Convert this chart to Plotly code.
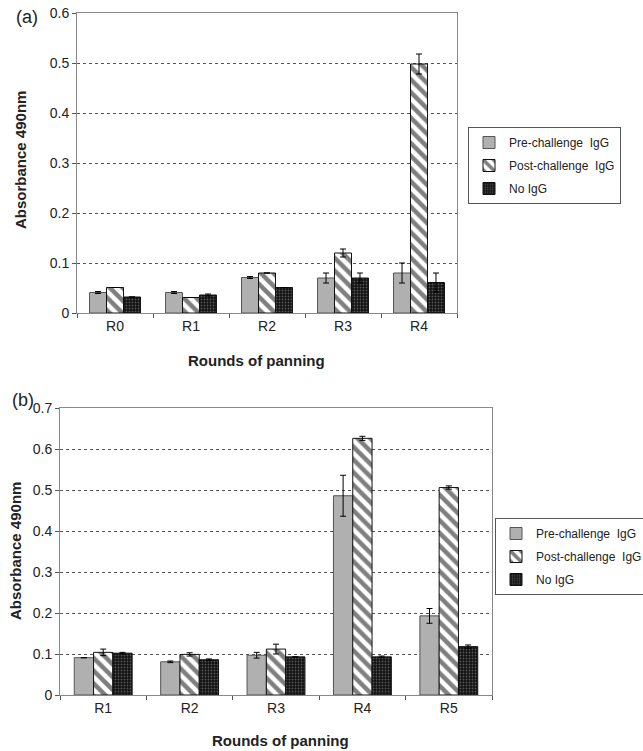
import plotly.graph_objects as go

W, H = 643, 751

# Panel (a)
cats_a = ["R0", "R1", "R2", "R3", "R4"]
pre_a = [0.041, 0.041, 0.071, 0.070, 0.080]
pre_a_err = [0.002, 0.002, 0.002, 0.010, 0.020]
post_a = [0.051, 0.031, 0.080, 0.120, 0.498]
post_a_err = [0.0, 0.0, 0.0, 0.008, 0.020]
no_a = [0.032, 0.036, 0.051, 0.070, 0.061]
no_a_err = [0.0, 0.002, 0.0, 0.010, 0.019]

# Panel (b)
cats_b = ["R1", "R2", "R3", "R4", "R5"]
pre_b = [0.091, 0.081, 0.097, 0.486, 0.193]
pre_b_err = [0.0, 0.002, 0.007, 0.050, 0.018]
post_b = [0.104, 0.099, 0.112, 0.626, 0.506]
post_b_err = [0.008, 0.004, 0.012, 0.005, 0.004]
no_b = [0.102, 0.086, 0.093, 0.093, 0.118]
no_b_err = [0.002, 0.002, 0.0, 0.002, 0.004]

series_names = ["Pre-challenge  IgG", "Post-challenge  IgG", "No IgG"]

FONT = "Liberation Sans, Arial, sans-serif"

def px_x(p):
    return p / W

def px_y(p):
    return 1 - p / H

styles = [
    dict(color="#b0b0b0", line=dict(color="#555555", width=1)),
    dict(color="white", line=dict(color="#111111", width=1),
         pattern=dict(shape="\\", fgcolor="#000000", bgcolor="white", size=9, solidity=0.5)),
    dict(color="#111111", line=dict(color="#111111", width=1),
         pattern=dict(shape=".", fgcolor="#9a9a9a", bgcolor="#111111", size=3, solidity=0.3)),
]

fig = go.Figure()

def add_panel(cats, vals, errs, xa, ya, legend, tag):
    for i in range(3):
        fig.add_trace(go.Bar(
            x=cats, y=vals[i], name=series_names[i],
            marker=styles[i],
            error_y=dict(type="data", array=errs[i], visible=True,
                         color="black", thickness=1, width=3),
            xaxis=xa, yaxis=ya, legend=legend, legendgroup=f"{tag}{i}",
        ))

add_panel(cats_a, [pre_a, post_a, no_a], [pre_a_err, post_a_err, no_a_err], "x", "y", "legend", "a")
add_panel(cats_b, [pre_b, post_b, no_b], [pre_b_err, post_b_err, no_b_err], "x2", "y2", "legend2", "b")

axis_common = dict(showline=True, linecolor="#888888", linewidth=1, mirror=True,
                   ticks="outside", tickcolor="#555555", ticklen=4, automargin=False,
                   tickfont=dict(family=FONT, size=14, color="#222222"))

legend_common = dict(xanchor="left", yanchor="top",
                     bordercolor="#555555", borderwidth=1, bgcolor="white",
                     font=dict(family=FONT, size=12, color="#222222"),
                     itemwidth=30, tracegroupgap=4)

fig.update_layout(
    width=W, height=H,
    margin=dict(l=0, r=0, t=0, b=0, autoexpand=False),
    paper_bgcolor="white", plot_bgcolor="white",
    barmode="group", bargap=0.33, bargroupgap=0.0,
    font=dict(family=FONT, color="#222222"),
    xaxis=dict(domain=[px_x(77), px_x(457)], anchor="y",
               tickson="boundaries", **axis_common),
    yaxis=dict(domain=[px_y(313), px_y(13)], anchor="x", range=[0, 0.6],
               dtick=0.1, tickformat=".1~f", showgrid=True,
               gridcolor="#555555", griddash="dot", gridwidth=1, **axis_common),
    xaxis2=dict(domain=[px_x(60), px_x(492)], anchor="y2",
                tickson="boundaries", **axis_common),
    yaxis2=dict(domain=[px_y(695), px_y(408)], anchor="x2", range=[0, 0.7],
                dtick=0.1, tickformat=".1~f", showgrid=True,
                gridcolor="#555555", griddash="dot", gridwidth=1, **axis_common),
    legend=dict(x=px_x(468), y=px_y(127), **legend_common),
    legend2=dict(x=px_x(495), y=px_y(518), **legend_common),
    showlegend=True,
)

annots = [
    dict(text="(a)", x=px_x(27), y=px_y(17), font=dict(size=18)),
    dict(text="(b)", x=px_x(23), y=px_y(400), font=dict(size=18)),
    dict(text="<b>Absorbance 490nm</b>", x=px_x(20), y=px_y(160), textangle=-90, font=dict(size=15)),
    dict(text="<b>Absorbance 490nm</b>", x=px_x(15), y=px_y(551), textangle=-90, font=dict(size=15)),
    dict(text="<b>Rounds of panning</b>", x=px_x(256), y=px_y(360), font=dict(size=15)),
    dict(text="<b>Rounds of panning</b>", x=px_x(280), y=px_y(740), font=dict(size=15)),
]
for a in annots:
    a.update(xref="paper", yref="paper", showarrow=False, xanchor="center", yanchor="middle")
    a["font"].update(family=FONT, color="#222222")
    fig.add_annotation(**a)

fig.write_html("out.html")
